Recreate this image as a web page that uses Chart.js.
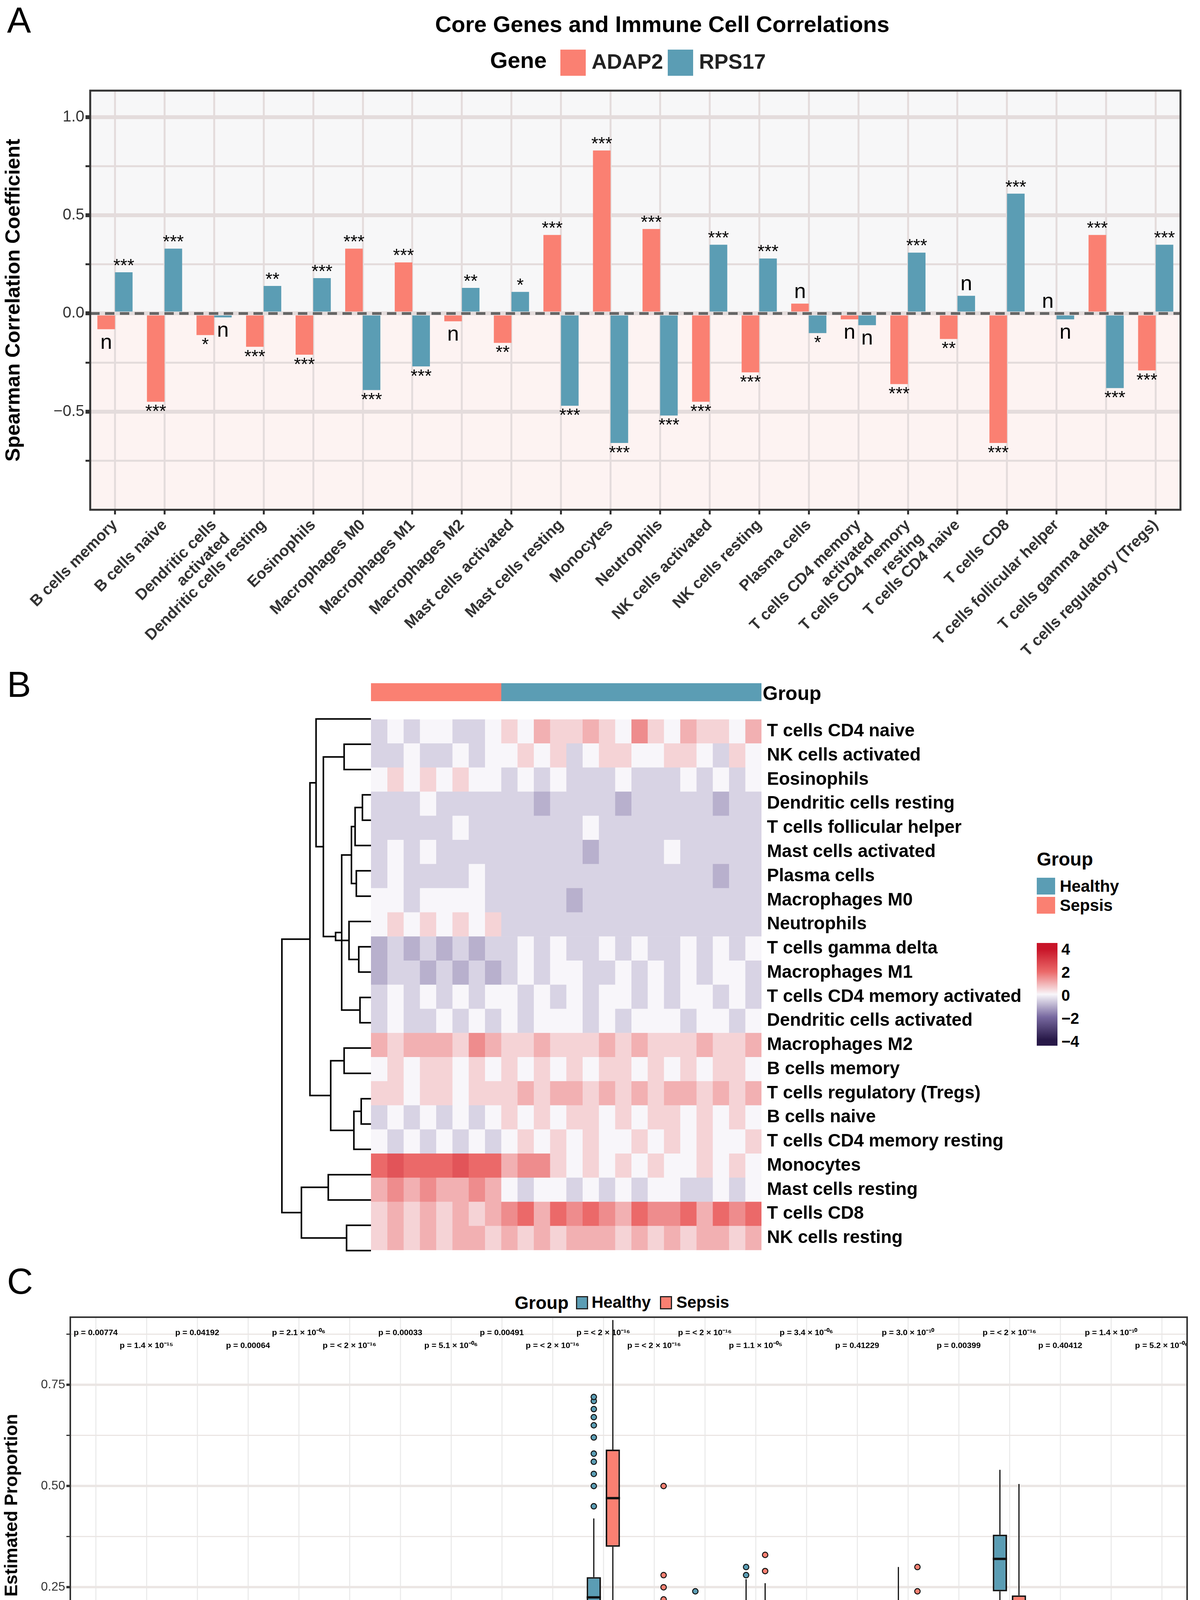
<!DOCTYPE html>
<html><head><meta charset="utf-8">
<script src="https://cdn.jsdelivr.net/npm/chart.js@4.4.1/dist/chart.umd.min.js"></script>
<style>
body{margin:0;width:3073px;height:4862px;background:#fff;position:relative;font-family:"Liberation Sans",Arial,sans-serif;overflow:hidden}
canvas{position:absolute}
.t{position:absolute;white-space:nowrap;color:#000}
.box{position:absolute}
</style></head><body>
<div class="t" style="left:18px;top:0px;font-size:92px">A</div>
<div class="t" style="left:18px;top:1700px;font-size:92px">B</div>
<div class="t" style="left:18px;top:3228px;font-size:92px">C</div>
<div class="t" style="left:0;width:3392px;text-align:center;top:28px;font-size:58px;font-weight:bold">Core Genes and Immune Cell Correlations</div>
<div class="t" style="left:1255px;top:120px;font-size:58px;font-weight:bold">Gene</div>
<div class="box" style="left:1435px;top:127px;width:65px;height:67px;background:#FA8072"></div>
<div class="t" style="left:1515px;top:126px;font-size:54px;font-weight:bold;color:#222">ADAP2</div>
<div class="box" style="left:1710px;top:127px;width:65px;height:67px;background:#5B9DB4"></div>
<div class="t" style="left:1790px;top:126px;font-size:54px;font-weight:bold;color:#222">RPS17</div>

<canvas id="cA" style="left:0;top:0" width="3073" height="1720"></canvas>
<canvas id="cAnn" style="left:950px;top:1749px" width="1700" height="46"></canvas>
<div class="t" style="left:1953px;top:1746px;font-size:50px;font-weight:bold">Group</div>
<canvas id="cDen" style="left:700px;top:1808px" width="250" height="1426"></canvas>
<canvas id="cH" style="left:950px;top:1808px" width="1700" height="1426"></canvas>
<div class="t" style="left:2655px;top:2172px;font-size:48px;font-weight:bold">Group</div>
<div class="box" style="left:2655px;top:2247px;width:47px;height:43px;background:#5B9DB4"></div>
<div class="t" style="left:2714px;top:2245px;font-size:42px;font-weight:bold">Healthy</div>
<div class="box" style="left:2655px;top:2296px;width:47px;height:43px;background:#FA8072"></div>
<div class="t" style="left:2714px;top:2294px;font-size:42px;font-weight:bold">Sepsis</div>
<div class="box" style="left:2655px;top:2414px;width:53px;height:263px;background:linear-gradient(to bottom,#c81428 0%,#c81428 6%,#eb6969 28%,#f8f6fa 50%,#7869a0 72%,#281948 94%,#281948 100%)"></div>
<div class="t" style="left:2718px;top:2408px;font-size:40px;font-weight:bold">4</div>
<div class="t" style="left:2718px;top:2467px;font-size:40px;font-weight:bold">2</div>
<div class="t" style="left:2718px;top:2526px;font-size:40px;font-weight:bold">0</div>
<div class="t" style="left:2718px;top:2585px;font-size:40px;font-weight:bold">−2</div>
<div class="t" style="left:2718px;top:2644px;font-size:40px;font-weight:bold">−4</div>

<div class="t" style="left:1318px;top:3308px;font-size:46px;font-weight:bold">Group</div>
<div class="box" style="left:1475px;top:3318px;width:31px;height:34px;background:#5B9DB4;border:3px solid #222;box-sizing:border-box"></div>
<div class="t" style="left:1515px;top:3310px;font-size:42px;font-weight:bold">Healthy</div>
<div class="box" style="left:1690px;top:3318px;width:31px;height:34px;background:#FA8072;border:3px solid #222;box-sizing:border-box"></div>
<div class="t" style="left:1732px;top:3310px;font-size:42px;font-weight:bold">Sepsis</div>
<canvas id="cC" style="left:0;top:3260px" width="3073" height="1602"></canvas>

<script>
const FONT='"Liberation Sans",Arial,sans-serif';
const RED='#FA8072', BLUE='#5B9DB4';
// ---------- Panel A data ----------
const cellsA=['B cells memory','B cells naive',['Dendritic cells','activated'],'Dendritic cells resting','Eosinophils','Macrophages M0','Macrophages M1','Macrophages M2','Mast cells activated','Mast cells resting','Monocytes','Neutrophils','NK cells activated','NK cells resting','Plasma cells',['T cells CD4 memory','activated'],['T cells CD4 memory','resting'],'T cells CD4 naive','T cells CD8','T cells follicular helper','T cells gamma delta','T cells regulatory (Tregs)'];
const adap2=[-0.08,-0.45,-0.11,-0.17,-0.21,0.33,0.26,-0.04,-0.15,0.40,0.83,0.43,-0.45,-0.30,0.05,-0.03,-0.36,-0.13,-0.66,0.0,0.40,-0.29];
const rps17=[0.21,0.33,-0.02,0.14,0.18,-0.39,-0.27,0.13,0.11,-0.47,-0.66,-0.52,0.35,0.28,-0.10,-0.06,0.31,0.09,0.61,-0.03,-0.38,0.35];
const sigA=['n','***','*','***','***','***','***','n','**','***','***','***','***','***','n','n','***','**','***','n','***','***'];
const sigR=['***','***','n','**','***','***','***','**','*','***','***','***','***','***','*','n','***','n','***','n','***','***'];
const yTicksA=[-0.75,-0.5,-0.25,0,0.25,0.5,0.75,1.0];

const aPlug={id:'aPlug',
 beforeDraw(c){const {ctx,chartArea:a,scales:{y}}=c;const y0=y.getPixelForValue(0);
  ctx.save();ctx.fillStyle='#f7f7f8';ctx.fillRect(a.left,a.top,a.width,y0-a.top);
  ctx.fillStyle='#fdf3f2';ctx.fillRect(a.left,y0,a.width,a.bottom-y0);ctx.restore();},
 afterDatasetsDraw(c){const {ctx,chartArea:a,scales:{y}}=c;const y0=y.getPixelForValue(0);
  ctx.save();ctx.strokeStyle='#666';ctx.lineWidth=7;ctx.setLineDash([24,14]);
  ctx.beginPath();ctx.moveTo(a.left,y0);ctx.lineTo(a.right,y0);ctx.stroke();ctx.setLineDash([]);
  ctx.strokeStyle='#333';ctx.lineWidth=5;ctx.strokeRect(a.left,a.top,a.width,a.height);
  ctx.fillStyle='#000';ctx.textAlign='center';
  [[adap2,sigA],[rps17,sigR]].forEach((p,i)=>{const m=c.getDatasetMeta(i);
   m.data.forEach((el,j)=>{const v=p[0][j],s=p[1][j];ctx.font=(s==='n'?'54px ':'46px ')+FONT;
    if(v>=0){ctx.textBaseline='bottom';ctx.fillText(s,el.x,el.y-(s==='n'?2:-8));}
    else{ctx.textBaseline='top';ctx.fillText(s,el.x,el.y+(s==='n'?8:4));}});});
  ctx.restore();}};
new Chart(document.getElementById('cA'),{type:'bar',
 data:{labels:cellsA,datasets:[{label:'ADAP2',data:adap2,backgroundColor:RED},{label:'RPS17',data:rps17,backgroundColor:BLUE}]},
 options:{responsive:false,animation:false,barPercentage:1,categoryPercentage:0.71,
  layout:{padding:{top:232,right:50,left:0,bottom:0}},
  plugins:{legend:{display:false},tooltip:{enabled:false}},
  scales:{
   x:{grid:{offset:false,color:'#e4dcdc',lineWidth:5,drawTicks:true,tickLength:12,tickColor:'#333'},border:{display:false},
      ticks:{autoSkip:false,minRotation:45,maxRotation:45,color:'#333',font:{family:FONT,size:40,weight:'bold'},padding:4},
      afterFit(s){s.height=415;}},
   y:{min:-1.0,max:1.135,afterBuildTicks(s){s.ticks=yTicksA.map(v=>({value:v}));},
      grid:{color:'#e4dcdc',lineWidth:(ctx)=>Math.abs((ctx.tick.value*2)%1)<1e-6?10:5,drawTicks:true,tickLength:12,tickColor:'#333'},border:{display:false},
      ticks:{color:'#333',font:{family:FONT,size:40},callback:v=>Math.abs((v*2)%1)<1e-6?(v===0?'0.0':v<0?'−'+Math.abs(v).toFixed(1):v.toFixed(1)):''},
      title:{display:true,text:'Spearman Correlation Coefficient',color:'#000',font:{family:FONT,size:52,weight:'bold'}},
      afterFit(s){s.width=231;}}}},plugins:[aPlug]});

// ---------- Panel B data ----------
const rowsB=['T cells CD4 naive','NK cells activated','Eosinophils','Dendritic cells resting','T cells follicular helper','Mast cells activated','Plasma cells','Macrophages M0','Neutrophils','T cells gamma delta','Macrophages M1','T cells CD4 memory activated','Dendritic cells activated','Macrophages M2','B cells memory','T cells regulatory (Tregs)','B cells naive','T cells CD4 memory resting','Monocytes','Mast cells resting','T cells CD8','NK cells resting'];
// each char: level code, value = (code-4)*0.5 ; first 8 columns Sepsis, next 16 Healthy
const heatB=[
'343443345465565475465546','334334344545345544554354','454545443434333433343434','333433333323333233333233',
'333334333333343333333333','343433333333323333433333','343333433333333333333233','443444433333233333333333',
'454545453333333333333333','232323233434334343343434','233232323434433434343443','343434344343434434344343',
'343343434344434344434434','656665765565556565556556','454554545454545545454554','554554555656656565665656',
'343434345454554545545454','434343434545454454545445','898889886775454545445454','676766764344343434433434',
'565656567868787687786878','565656656565666565656656'];
const groupSizes={Sepsis:8,Healthy:16};
// dendrogram merges: [childA, childB, height]; leaves 0..21, internal nodes numbered 22+
const merges=[[3,4,7],[6,7,12],[22,5,13],[11,12,9],[9,10,10],[24,23,16],[26,8,18],[1,2,22],[27,25,24],[30,28,29],[29,31,39],[32,0,45],
[15,16,8],[34,17,14],[13,14,22],[36,35,33],[33,37,50],[18,19,35],[20,21,20],[39,40,57],[38,41,73]];

const stops=[[-4,[40,25,72]],[-2,[120,105,160]],[0,[248,246,250]],[2,[235,105,105]],[4,[200,20,40]]];
function col(v){v=Math.max(-4,Math.min(4,v));for(let i=0;i<stops.length-1;i++){const[a,ca]=stops[i],[b,cb]=stops[i+1];
 if(v<=b){const t=(v-a)/(b-a);return 'rgb('+ca.map((x,k)=>Math.round(x+(cb[k]-x)*t)).join(',')+')';}}return 'rgb(200,20,40)';}
const nCol=heatB[0].length;
const hDatasets=[];
for(let k=0;k<nCol;k++){hDatasets.push({data:rowsB.map(()=>1),backgroundColor:rowsB.map((_,r)=>col((parseInt(heatB[r][k])-4)*0.5)),borderWidth:0,barPercentage:1,categoryPercentage:1});}
new Chart(document.getElementById('cH'),{type:'bar',data:{labels:rowsB,datasets:hDatasets},
 options:{indexAxis:'y',responsive:false,animation:false,layout:{padding:0},plugins:{legend:{display:false},tooltip:{enabled:false}},
  scales:{x:{stacked:true,display:false,min:0,max:nCol},
   y:{stacked:true,position:'right',grid:{display:false},border:{display:false},
      ticks:{autoSkip:false,color:'#000',padding:6,font:{family:FONT,size:46,weight:'bold'}},afterFit(s){s.width=700;}}}}});
new Chart(document.getElementById('cAnn'),{type:'bar',data:{labels:['Group'],datasets:[
 {data:[groupSizes.Sepsis],backgroundColor:RED,borderWidth:0,barPercentage:1,categoryPercentage:1},
 {data:[groupSizes.Healthy],backgroundColor:BLUE,borderWidth:0,barPercentage:1,categoryPercentage:1}]},
 options:{indexAxis:'y',responsive:false,animation:false,layout:{padding:{right:700}},plugins:{legend:{display:false},tooltip:{enabled:false}},
  scales:{x:{stacked:true,display:false,min:0,max:nCol},y:{stacked:true,display:false}}}});
// dendrogram
const nodes=rowsB.map((_,i)=>({y:i,h:0}));
const denSets=[];
merges.forEach(([a,b,h])=>{const A=nodes[a],B=nodes[b];
 denSets.push({data:[{x:A.h,y:A.y},{x:h,y:A.y},{x:h,y:B.y},{x:B.h,y:B.y}],showLine:true,borderColor:'#000',borderWidth:4,pointRadius:0,tension:0});
 nodes.push({y:(A.y+B.y)/2,h:h});});
new Chart(document.getElementById('cDen'),{type:'scatter',data:{datasets:denSets},
 options:{responsive:false,animation:false,layout:{padding:0},plugins:{legend:{display:false},tooltip:{enabled:false}},
  scales:{x:{type:'linear',reverse:true,min:0,max:80,display:false},y:{type:'linear',reverse:true,min:-0.5,max:21.5,display:false}}}});

// ---------- Panel C data ----------
const cellsC=['B.cells.memory','B.cells.naive','Dendritic.cells.activated','Dendritic.cells.resting','Eosinophils','Macrophages.M0','Macrophages.M1','Macrophages.M2','Mast.cells.activated','Mast.cells.resting','Monocytes','Neutrophils','NK.cells.activated','NK.cells.resting','Plasma.cells','T.cells.CD4.memory.activated','T.cells.CD4.memory.resting','T.cells.CD4.naive','T.cells.CD8','T.cells.follicular.helper','T.cells.gamma.delta','T.cells.regulatory..Tregs.'];
// [lower whisker, q1, median, q3, upper whisker]
const healthyBox=[[0,.01,.025,.04,.08],[0,.01,.025,.04,.07],[0,0,.002,.005,.012],[0,0,0,.002,.005],[0,0,.003,.008,.02],[0,0,0,.001,.003],[0,0,0,.002,.005],[.02,.045,.065,.085,.13],[0,0,0,.003,.008],[0,.005,.015,.03,.06],[.08,.175,.225,.275,.42],[0,.01,.02,.03,.06],[0,.005,.015,.045,.1],[.03,.07,.12,.15,.27],[0,0,0,.002,.006],[0,.005,.015,.03,.06],[0,.01,.05,.115,.3],[0,.002,.01,.05,.11],[.06,.24,.32,.38,.54],[0,0,0,0,0],[0,0,0,.001,.003],[0,.01,.03,.055,.14]];
const sepsisBox=[[0,.007,.018,.03,.07],[0,.003,.01,.02,.05],[0,0,.002,.005,.012],[0,0,0,.002,.005],[0,0,.002,.006,.015],[0,0,.002,.01,.025],[0,0,.001,.004,.01],[.005,.025,.05,.08,.155],[0,0,0,.001,.003],[.01,.025,.035,.05,.08],[0,.35,.47,.59,.91],[0,.015,.04,.07,.13],[0,0,.003,.01,.02],[0,.035,.08,.13,.26],[0,0,.002,.01,.02],[0,.005,.015,.03,.05],[0,.005,.015,.035,.08],[0,.004,.01,.025,.06],[0,.03,.16,.23,.505],[0,0,0,0,0],[0,0,0,.003,.008],[0,.01,.025,.04,.085]];
const healthyOut=[[.09,.1,.11,.12,.13],[.08,.09],[.015,.02],[.008,.01],[.025,.03,.04],[.005],[.01,.015,.02],[.14,.15,.16,.17,.19],[.02,.04,.06,.08],[.07],[.45,.5,.53,.56,.58,.62,.65,.67,.69,.71,.72],[.07],[.12,.15,.18,.2,.24],[.28,.3],[.01,.02,.03],[.07,.08,.1],[],[.13,.15,.17,.19],[.01],[.005,.02],[.01,.02,.03,.04],[]];
const sepsisOut=[[.08,.09,.1],[.06,.07,.08,.09],[.015,.02],[.008,.01],[.02,.03,.04],[.04,.06,.08,.1,.12,.14],[.02,.04,.06],[],[.01,.02],[.09],[],[.15,.18,.2,.22,.25,.28,.5],[.03,.05],[.29,.33],[.03,.05,.07],[.06,.07,.09],[.1,.12,.14,.16,.2,.24,.3],[.07,.1,.13],[],[.02,.05],[.02,.04,.06,.09],[.1,.11]];
const pvals=['p = 0.00774','p = 1.4 × 10⁻¹⁵','p = 0.04192','p = 0.00064','p = 2.1 × 10⁻⁰⁶','p = < 2 × 10⁻¹⁶','p = 0.00033','p = 5.1 × 10⁻⁰⁶','p = 0.00491','p = < 2 × 10⁻¹⁶','p = < 2 × 10⁻¹⁶','p = < 2 × 10⁻¹⁶','p = < 2 × 10⁻¹⁶','p = 1.1 × 10⁻⁰⁵','p = 3.4 × 10⁻⁰⁶','p = 0.41229','p = 3.0 × 10⁻¹⁰','p = 0.00399','p = < 2 × 10⁻¹⁶','p = 0.40412','p = 1.4 × 10⁻¹⁰','p = 5.2 × 10⁻⁰⁶'];
const yTicksC=[0,0.125,0.25,0.375,0.5,0.625,0.75,0.875];

const cPlug={id:'cPlug',
 afterDatasetsDraw(c){const {ctx,chartArea:a,scales:{x,y}}=c;ctx.save();
  [[healthyBox,healthyOut,BLUE],[sepsisBox,sepsisOut,RED]].forEach((g,i)=>{const m=c.getDatasetMeta(i);
   m.data.forEach((el,j)=>{const b=g[0][j];const cx=el.x,w=el.width;
    ctx.strokeStyle='#111';ctx.lineWidth=3;ctx.beginPath();
    ctx.moveTo(cx,y.getPixelForValue(b[3]));ctx.lineTo(cx,y.getPixelForValue(b[4]));
    ctx.moveTo(cx,y.getPixelForValue(b[1]));ctx.lineTo(cx,y.getPixelForValue(b[0]));ctx.stroke();
    ctx.lineWidth=6;ctx.beginPath();ctx.moveTo(cx-w/2,y.getPixelForValue(b[2]));ctx.lineTo(cx+w/2,y.getPixelForValue(b[2]));ctx.stroke();
    g[1][j].forEach(v=>{ctx.beginPath();ctx.arc(cx,y.getPixelForValue(v),7,0,Math.PI*2);ctx.fillStyle=g[2];ctx.fill();ctx.lineWidth=2.5;ctx.stroke();});});});
  ctx.fillStyle='#000';ctx.font='bold 21px '+FONT;ctx.textAlign='center';ctx.textBaseline='middle';
  pvals.forEach((p,j)=>{ctx.fillText(p,x.getPixelForValue(j),a.top+(j%2?73:40));});
  ctx.strokeStyle='#333';ctx.lineWidth=4;ctx.strokeRect(a.left,a.top,a.width,a.height);
  ctx.restore();}};
new Chart(document.getElementById('cC'),{type:'bar',
 data:{labels:cellsC,datasets:[
  {label:'Healthy',data:healthyBox.map(b=>[b[1],b[3]]),backgroundColor:BLUE,borderColor:'#111',borderWidth:4,borderSkipped:false},
  {label:'Sepsis',data:sepsisBox.map(b=>[b[1],b[3]]),backgroundColor:RED,borderColor:'#111',borderWidth:4,borderSkipped:false}]},
 options:{responsive:false,animation:false,barPercentage:0.75,categoryPercentage:0.75,
  layout:{padding:{top:112,right:33,left:0,bottom:0}},
  plugins:{legend:{display:false},tooltip:{enabled:false}},
  scales:{
   x:{grid:{offset:false,color:'#ececec',lineWidth:3,tickLength:10,tickColor:'#333'},border:{display:false},
      ticks:{autoSkip:false,minRotation:75,maxRotation:75,color:'#000',font:{family:FONT,size:29,weight:'bold',style:'italic'}},
      title:{display:true,text:'Cell Type',color:'#000',font:{family:FONT,size:46,weight:'bold'},padding:{top:10,bottom:28}},
      afterFit(s){s.height=527;}},
   y:{min:-0.012,max:0.917,afterBuildTicks(s){s.ticks=yTicksC.map(v=>({value:v}));},
      grid:{color:'#ebe6e4',lineWidth:(ctx)=>Math.abs((ctx.tick.value*4)%1)<1e-6?6:3,tickLength:10,tickColor:'#333'},border:{display:false},
      ticks:{color:'#333',font:{family:FONT,size:32},callback:v=>Math.abs((v*4)%1)<1e-6?v.toFixed(2):''},
      title:{display:true,text:'Estimated Proportion',color:'#000',font:{family:FONT,size:46,weight:'bold'}},
      afterFit(s){s.width=180;}}}},plugins:[cPlug]});
</script></body></html>
